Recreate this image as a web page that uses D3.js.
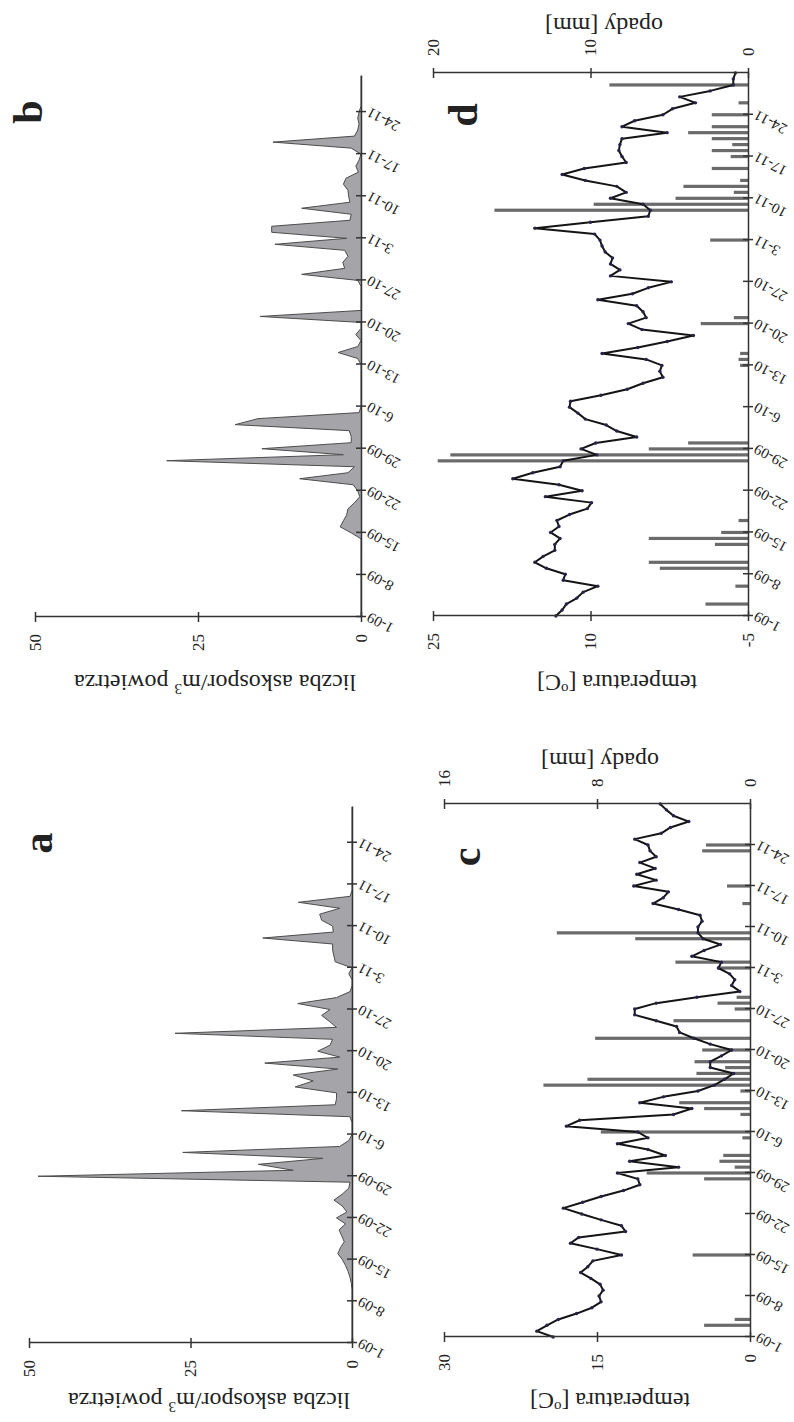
<!DOCTYPE html>
<html>
<head>
<meta charset="utf-8">
<script src="https://cdn.jsdelivr.net/npm/d3@7"></script>
<style>
  body { margin: 0; background: #fff; }
  text { font-family: "Liberation Serif", "Times New Roman", serif; fill: #222; }
</style>
</head>
<body>
<div id="chart"></div>
<script>
// date axis: a tick every 7 days, day 0 = 1-09
var dateLabels = ["1-09","8-09","15-09","22-09","29-09","6-10","13-10","20-10","27-10","3-11","10-11","17-11","24-11"];
var dateTickDays = [0,7,14,21,28,35,42,49,56,63,70,77,84];

// daily ascospore counts, 1-09 .. 30-11
var sporesA = [0,0,0,0,0,0,0,0,0,0,
  0.1,0.3,0.6,1.0,1.5,2.2,1.8,1.2,1.6,2.0,
  1.0,2.4,0.8,1.5,2.8,1.5,0.5,0.3,48.6,9.1,
  14.5,4.5,26.2,1.9,0.5,0,0,0,0.3,26.4,
  2.6,2.4,2.4,8.8,6.0,9.1,2.2,13.5,1.9,5.3,
  3.4,3.0,27.4,2.4,3.5,4.7,3.4,8.4,2.4,0.3,
  0,0,0.5,0,2.6,2.8,3.0,3.0,13.8,2.9,
  3.0,4.7,5.0,1.9,8.3,0.3,0,0,0,0,
  0,0,0,0,0,0,0,0,0,0,0];
var sporesB = [0,0,0,0,0,0,0,0,0,0,
  0,0,0,0,1.5,3.2,2.7,2.2,2.0,1.0,
  0.2,0.5,1.2,9.4,2.0,1.0,29.8,2.7,15.2,1.5,
  1.5,1.8,19.3,15.8,0.3,0,0,0,0,0,
  0,0,0,0.5,3.5,0.5,0,0.8,0,0,
  15.5,0,0,0,0,0,0.5,9.1,2.5,2.8,
  2.0,2.5,13.2,2.2,13.7,13.7,1.7,1.5,9.1,1.7,
  1.9,2.0,2.7,2.3,0.4,0.8,0.3,0,1.5,13.5,
  1.0,0.5,0.3,0.5,0.3,0,0,0,0,0,0];

// daily mean temperature [oC] and rainfall [mm], 1-09 .. 1-12
var tempC = [19.3,20.9,19.9,18.8,17.0,15.5,14.6,14.8,14.4,14.7,
  15.6,16.6,15.9,15.4,12.6,15.0,17.6,16.8,12.2,12.6,
  14.6,16.5,18.3,16.4,14.6,12.4,10.8,11.0,13.0,7.0,
  11.8,8.3,10.0,13.0,10.0,11.0,18.0,16.7,7.5,5.7,
  10.8,8.5,5.1,3.5,2.5,1.6,3.9,3.9,2.8,1.8,
  3.9,5.5,6.9,7.2,9.2,11.3,11.3,9.2,5.2,1.0,
  1.8,1.5,2.0,3.1,2.8,5.7,4.5,2.9,4.6,5.1,
  5.1,4.7,4.9,7.0,9.5,8.5,8.0,11.4,9.2,11.1,
  9.3,10.8,9.2,9.8,10.0,11.3,8.7,7.8,6.0,7.5,
  8.2,8.8];
var rainC = [0,0,2.4,0.8,0,0,0,0,0,0,
  0,0,0,0,3.0,0,0,0,0,0,
  0,0,0,0,0,0,0,2.4,5.4,0.8,
  1.6,1.4,0,0,0.4,7.8,0,0,0.5,2.4,
  3.7,0,0.5,10.8,8.5,2.8,1.3,2.9,0,2.5,
  0,8.1,0,0,4.0,0,0.8,1.7,0.7,0,
  0,0,0,1.7,3.9,0,0,0,6.0,10.1,
  0,0,0,0,0.4,0,0,1.2,0,0,
  0,0,0,2.5,2.3,0,0,0,0,0,
  0,0];
var tempD = [13.3,12.7,12.3,11.3,10.7,9.3,12.6,12.4,14.2,15.3,
  14.5,13.4,13.4,12.9,13.8,13.0,13.2,12.0,10.3,9.9,
  14.3,10.8,13.0,17.4,15.5,12.9,12.6,9.4,10.9,9.5,
  5.6,7.5,8.5,10.5,11.2,12.0,11.9,9.0,6.5,5.0,
  3.1,3.4,3.2,4.7,8.9,5.5,2.7,0.2,5.1,6.4,
  4.7,5.0,5.6,9.3,6.0,4.5,2.3,8.1,7.2,8.1,
  7.9,8.6,8.9,9.1,9.6,15.3,10.0,4.5,4.3,5.0,
  8.1,6.6,7.5,10.5,12.7,10.6,6.6,7.0,7.3,7.2,
  7.0,2.7,7.0,5.8,3.1,2.2,0.0,1.5,-1.4,-3.6,
  -3.6,-3.8];
var rainD = [0,0,2.7,0,0,0.8,0,0,5.6,6.3,
  0,0,2.1,6.3,1.7,0,0.6,0,0,0,
  0,0,0,0,0,0,19.7,18.9,6.3,3.8,
  0,0,0,0,0,0,0,0,0,0,
  0,0,0.5,0.6,0.5,0,0,0,0,3.0,
  0.9,0,0,0,0,0,0,0,0,0,
  0,0,0,2.4,0,0,0,0,16.1,9.8,
  4.6,0.9,4.1,0.5,0,2.3,0,1.1,2.3,1.0,
  2.3,3.8,2.3,0,2.3,0,0.6,0,0,8.8,
  0,0];

var axisColor = "#333";

var svg = d3.select("#chart")
  .append("svg")
    .attr("width", 794)
    .attr("height", 1422);

// each panel is drawn upright in its own frame and then turned -90 deg onto the page
var panels = [
  {letter: "a", X: 29, Y: 1343, W: 536, H: 323, days: 90, values: sporesA,
   yDomain: [0, 50], yTicks: [0, 25, 50], title: "spores", titleAt: [-50, 180], letterAt: [500, 23]},
  {letter: "b", X: 35, Y: 617, W: 541, H: 326, days: 90, values: sporesB,
   yDomain: [0, 50], yTicks: [0, 25, 50], title: "spores", titleAt: [-58, 180], letterAt: [505, 7]},
  {letter: "c", X: 444, Y: 1337, W: 533, H: 306, days: 91, values: tempC, rain: rainC,
   yDomain: [0, 30], yTicks: [0, 15, 30], rDomain: [0, 16], rTicks: [0, 8, 16],
   title: "temp", titleAt: [-56, 166], rTitleAt: [584, 156], letterAt: [480, 36]},
  {letter: "d", X: 433, Y: 616, W: 543, H: 315, days: 91, values: tempD, rain: rainD,
   yDomain: [-5, 25], yTicks: [-5, 10, 25], rDomain: [0, 20], rTicks: [0, 10, 20],
   title: "temp", titleAt: [-59, 184], rTitleAt: [598, 171], letterAt: [501, 44]}
];

panels.forEach(drawPanel);

function drawPanel(p) {
  var g = svg.append("g")
    .attr("transform", "translate(" + p.X + "," + p.Y + ") rotate(-90)");

  var x = d3.scaleLinear().domain([0, p.days]).range([0, p.W]);
  var y = d3.scaleLinear().domain(p.yDomain).range([p.H, 0]);

  if (!p.rain) {
    // spore area
    var area = d3.area()
      .x(function(d, i) { return x(i); })
      .y0(y(0))
      .y1(function(d) { return y(d); });
    g.append("path").datum(p.values)
      .attr("d", area)
      .attr("fill", "#a4a4a9");
    var edge = d3.line()
      .x(function(d, i) { return x(i); })
      .y(function(d) { return y(d); });
    g.append("path").datum(p.values)
      .attr("d", edge)
      .attr("fill", "none")
      .attr("stroke", "#4d4d4d")
      .attr("stroke-width", 1);
  } else {
    var r = d3.scaleLinear().domain(p.rDomain).range([p.H, 0]);
    var rainDays = p.rain.map(function(v, i) { return {day: i, v: v}; })
      .filter(function(d) { return d.v > 0; });

    // rainfall bars
    g.append("g").selectAll("rect")
      .data(rainDays)
      .enter()
      .append("rect")
        .attr("x", function(d) { return x(d.day) - 1.6; })
        .attr("width", 3.2)
        .attr("y", function(d) { return r(d.v); })
        .attr("height", function(d) { return p.H - r(d.v); })
        .attr("fill", "#6b6b6b");

    // temperature line with small markers
    var line = d3.line()
      .x(function(d, i) { return x(i); })
      .y(function(d) { return y(d); });
    g.append("path").datum(p.values)
      .attr("d", line)
      .attr("fill", "none")
      .attr("stroke", "#141414")
      .attr("stroke-width", 2)
      .attr("stroke-linejoin", "round");
    g.append("g").selectAll("circle")
      .data(p.values)
      .enter()
      .append("circle")
        .attr("cx", function(d, i) { return x(i); })
        .attr("cy", function(d) { return y(d); })
        .attr("r", 1.7)
        .attr("fill", "#25254a");

    // rainfall axis on the far end of the date axis
    var gr = g.append("g")
      .attr("transform", "translate(" + p.W + ",0)")
      .call(d3.axisRight(r).tickValues(p.rTicks).tickSize(5).tickSizeOuter(0).tickPadding(12)
        .tickFormat(function(d) { return String(d); }));
    styleAxis(gr);
    gr.selectAll(".tick line").attr("x1", -5);

    g.append("text")
      .attr("transform", "translate(" + p.rTitleAt[0] + "," + p.rTitleAt[1] + ") rotate(-90)")
      .attr("text-anchor", "middle")
      .attr("font-size", 24)
      .text("opady [mm]");
  }

  // date axis
  var gx = g.append("g")
    .attr("transform", "translate(0," + p.H + ")")
    .call(d3.axisBottom(x)
      .tickValues(dateTickDays)
      .tickFormat(function(d) { return dateLabels[dateTickDays.indexOf(d)]; })
      .tickSize(5)
      .tickSizeOuter(0));
  styleAxis(gx);
  gx.selectAll(".tick line").attr("y1", -5);
  gx.selectAll(".tick text")
    .attr("y", 0)
    .attr("dy", "0.35em")
    .attr("font-size", 15)
    .attr("text-anchor", "end")
    .attr("transform", "translate(0,7) rotate(-62)");

  // value axis
  var gy = g.append("g")
    .call(d3.axisLeft(y).tickValues(p.yTicks).tickSize(5).tickSizeOuter(0).tickPadding(12)
      .tickFormat(function(d) { return String(d); }));
  styleAxis(gy);
  gy.selectAll(".tick line").attr("x1", 5);

  // axis title
  var t = g.append("text")
    .attr("transform", "translate(" + p.titleAt[0] + "," + p.titleAt[1] + ") rotate(-90)")
    .attr("text-anchor", "middle")
    .attr("font-size", 24);
  if (p.title == "spores") {
    t.append("tspan").text("liczba askospor/m");
    t.append("tspan").attr("dy", -9).attr("font-size", 15).text("3");
    t.append("tspan").attr("dy", 9).text(" powietrza");
  } else {
    t.append("tspan").text("temperatura [");
    t.append("tspan").attr("dy", -9).attr("font-size", 15).text("o");
    t.append("tspan").attr("dy", 9).text("C]");
  }

  // panel letter
  g.append("text")
    .attr("x", p.letterAt[0])
    .attr("y", p.letterAt[1])
    .attr("text-anchor", "middle")
    .attr("font-size", 42)
    .attr("font-weight", "bold")
    .text(p.letter);
}

function styleAxis(sel) {
  sel.attr("font-family", null).attr("font-size", 17);
  sel.select(".domain").attr("stroke", axisColor).attr("stroke-width", 1.5);
  sel.selectAll(".tick line").attr("stroke", axisColor).attr("stroke-width", 1.5);
  sel.selectAll(".tick text").attr("fill", "#222");
}
</script>
</body>
</html>
